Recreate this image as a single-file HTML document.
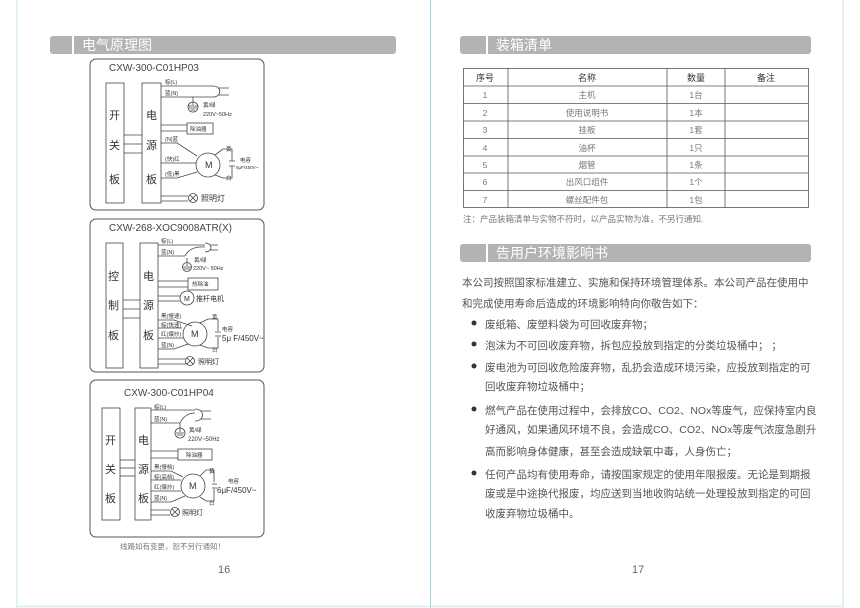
<!DOCTYPE html>
<html><head><meta charset="utf-8"><style>
html,body{margin:0;padding:0;background:#fff}
body{width:860px;height:608px;position:relative;overflow:hidden;font-family:"Liberation Sans","Noto Sans CJK SC",sans-serif}
.p{position:absolute;color:#555;font-size:10.5px;white-space:nowrap}
</style></head><body>
<svg width="860" height="608" style="position:absolute;left:0;top:0" font-family="Liberation Sans, Noto Sans CJK SC, sans-serif">
<line x1="17" y1="0" x2="17" y2="608" stroke="#d6ecef" stroke-width="1.5"/>
<line x1="430.5" y1="0" x2="430.5" y2="608" stroke="#9fd0dc" stroke-width="1"/>
<line x1="843" y1="0" x2="843" y2="608" stroke="#d6ecef" stroke-width="1.5"/>
<line x1="17" y1="606.5" x2="843" y2="606.5" stroke="#d6ecef" stroke-width="1.5"/>
<g fill="#b3b3b3">
<rect x="50" y="36" width="346" height="18" rx="3"/>
<rect x="460" y="36" width="351" height="18" rx="3"/>
<rect x="460" y="244" width="351" height="18" rx="3"/>
</g>
<g stroke="#fff" stroke-width="2">
<line x1="73" y1="36" x2="73" y2="54"/><line x1="487" y1="36" x2="487" y2="54"/><line x1="487" y1="244" x2="487" y2="262"/>
</g>
<g fill="#fff" font-size="14">
<text x="82" y="50">电气原理图</text><text x="496" y="50">装箱清单</text><text x="496" y="258">告用户环境影响书</text>
</g>
<g fill="none" stroke="#555" stroke-width="1">
<rect x="90" y="59" width="174" height="151" rx="6"/>
<rect x="90" y="219" width="174" height="153" rx="6"/>
<rect x="90" y="380" width="174" height="157" rx="6"/>
</g>
<g fill="#444" font-size="10"><text x="109" y="71">CXW-300-C01HP03</text><text x="109" y="231">CXW-268-XOC9008ATR(X)</text><text x="124" y="396">CXW-300-C01HP04</text></g>

<g stroke="#444" stroke-width="0.8" fill="none">
<rect x="106" y="83" width="18" height="120"/><rect x="142" y="83" width="19" height="120"/>
<line x1="124" y1="135" x2="142" y2="135"/><line x1="124" y1="144" x2="142" y2="144"/><line x1="124" y1="153" x2="142" y2="153"/>
<line x1="161" y1="86" x2="213" y2="86"/><line x1="161" y1="97" x2="213" y2="97"/>
<path d="M213 86 C222 86 222 97 213 97 M219 88 h10 M219 95 h10"/>
<path d="M193 97 v8 M188 106 h10 M189 108 h8 M191 110 h4"/><circle cx="193" cy="107" r="5"/>
<line x1="161" y1="125" x2="187" y2="125"/><line x1="161" y1="131" x2="187" y2="131"/><rect x="187" y="123" width="26" height="11"/>
<circle cx="208" cy="165" r="12"/>
<path d="M161 143 h16 l20 13 M161 163 h35 M161 178 h16 l20 -6"/>
<path d="M215 155 l8 -6 h9 v12 M215 175 l8 3 h9 v-12 M229 161 h6 M229 166 h6"/>
<line x1="161" y1="196" x2="188" y2="196"/><line x1="161" y1="201" x2="188" y2="201"/>
<circle cx="193" cy="198" r="4.5"/><path d="M190 195 l6 6 M196 195 l-6 6"/>
<rect x="106" y="243" width="17" height="125"/><rect x="140" y="243" width="18" height="125"/>
<line x1="123" y1="300" x2="140" y2="300"/><line x1="123" y1="309" x2="140" y2="309"/><line x1="123" y1="318" x2="140" y2="318"/>
<line x1="158" y1="245" x2="205" y2="245"/><line x1="158" y1="256" x2="185" y2="256"/><path d="M185 256 q5 -10 20 -9"/>
<path d="M205 243 C213 243 213 252 205 252 M210 245 h8 M210 250 h8"/>
<circle cx="187" cy="267" r="4.5"/><path d="M187 258 v8 M183 267 h8 M184 269 h6"/>
<line x1="158" y1="281" x2="188" y2="281"/><line x1="158" y1="287" x2="188" y2="287"/><rect x="188" y="278" width="30" height="12"/>
<line x1="158" y1="296" x2="180" y2="296"/><line x1="158" y1="301" x2="180" y2="301"/><circle cx="187" cy="298" r="7"/>
<circle cx="195" cy="334" r="12"/>
<path d="M158 320 h16 l18 6 M158 328 h24 M158 338 h25 M158 349 h16 l14 -5"/>
<path d="M200 323 l8 -4 h10 v12 M200 345 l8 3 h10 v-11 M215 332 h6 M215 336 h6"/>
<line x1="158" y1="359" x2="186" y2="359"/><line x1="158" y1="364" x2="186" y2="364"/>
<circle cx="190" cy="361" r="4.5"/><path d="M187 358 l6 6 M193 358 l-6 6"/>
<rect x="102" y="408" width="18" height="112"/><rect x="135" y="408" width="16" height="112"/>
<line x1="120" y1="460" x2="135" y2="460"/><line x1="120" y1="468" x2="135" y2="468"/><line x1="120" y1="476" x2="135" y2="476"/>
<line x1="151" y1="410" x2="195" y2="410"/><line x1="151" y1="423" x2="180" y2="423"/><path d="M180 423 q5 -10 15 -10"/>
<path d="M195 409 C205 409 205 421 195 421 M201 411 h10 M201 419 h10"/>
<circle cx="180" cy="433" r="5"/><path d="M180 423 v9 M176 433 h8 M177 435 h6"/>
<line x1="151" y1="451" x2="178" y2="451"/><line x1="151" y1="458" x2="178" y2="458"/><rect x="178" y="449" width="34" height="11"/>
<circle cx="193" cy="486" r="12"/>
<path d="M151 471 h20 l12 6 M151 480 h30 M151 491 h30 M151 502 h20 l14 -6"/>
<path d="M200 476 l6 -6 h8 v12 M200 497 l6 4 h8 v-12 M212 484 h5 M212 488 h5"/>
<line x1="151" y1="510" x2="170" y2="510"/><line x1="151" y1="515" x2="170" y2="515"/>
<circle cx="175" cy="512" r="4.5"/><path d="M172 509 l6 6 M178 509 l-6 6"/>
</g>
<g fill="#333" font-size="11">
<text x="109" y="119">开</text><text x="109" y="149">关</text><text x="109" y="183">板</text>
<text x="146" y="119">电</text><text x="146" y="149">源</text><text x="146" y="183">板</text>
<text x="108" y="280">控</text><text x="108" y="309">制</text><text x="108" y="339">板</text>
<text x="143" y="280">电</text><text x="143" y="309">源</text><text x="143" y="339">板</text>
<text x="105" y="444">开</text><text x="105" y="473">关</text><text x="105" y="502">板</text>
<text x="138" y="444">电</text><text x="138" y="473">源</text><text x="138" y="502">板</text>
</g>
<g fill="#333" font-size="5.5">
<text x="165" y="84">棕(L)</text><text x="165" y="95">蓝(N)</text><text x="203" y="107">黄/绿</text><text x="203" y="116">220V~50Hz</text>
<text x="190" y="131">除油器</text><text x="165" y="141">(N)蓝</text><text x="165" y="161">(快)红</text><text x="165" y="176">(低)黑</text>
<text x="226" y="151">黄</text><text x="226" y="180">白</text><text x="240" y="162">电容</text><text x="236" y="169" font-size="4.5">6μF/450V~</text>
<text x="161" y="243">棕(L)</text><text x="161" y="254">蓝(N)</text><text x="194" y="262">黄/绿</text><text x="193" y="270">220V~ 50Hz</text>
<text x="192" y="286">热除油</text><text x="161" y="318">黑(慢速)</text><text x="161" y="327">棕(快速)</text><text x="161" y="336">红(爆炒)</text><text x="161" y="347">蓝(N)</text>
<text x="212" y="319">黄</text><text x="212" y="352">白</text><text x="222" y="331">电容</text>
<text x="154" y="409">棕(L)</text><text x="154" y="421">蓝(N)</text><text x="189" y="432">黄/绿</text><text x="188" y="441" font-size="6">220V~50Hz</text>
<text x="186" y="457">除油器</text><text x="154" y="469">黑(慢档)</text><text x="154" y="479">棕(高档)</text><text x="154" y="489">红(爆炒)</text><text x="154" y="500">蓝(N)</text>
<text x="209" y="473">黄</text><text x="209" y="505">白</text><text x="228" y="483">电容</text>
</g>
<g fill="#333">
<text x="205" y="168" font-size="9">M</text><text x="201" y="201" font-size="8">照明灯</text>
<text x="184" y="301" font-size="7">M</text><text x="196" y="301" font-size="7">推杆电机</text>
<text x="191" y="337" font-size="9">M</text><text x="222" y="341" font-size="8">5μ F/450V~</text><text x="198" y="364" font-size="7">照明灯</text>
<text x="189" y="489" font-size="9">M</text><text x="217" y="493" font-size="8">6μF/450V~</text><text x="182" y="515" font-size="7">照明灯</text>
</g>
<text x="120" y="549" font-size="7.5" fill="#777">线路如有变更，恕不另行通知！</text>
<text x="218" y="573" font-size="11" fill="#666">16</text><text x="632" y="573" font-size="11" fill="#666">17</text>
<g stroke="#555" stroke-width="0.8" fill="none">
<rect x="463.5" y="68.5" width="345" height="139"/>
<line x1="508" y1="68" x2="508" y2="208"/><line x1="667" y1="68" x2="667" y2="208"/><line x1="725" y1="68" x2="725" y2="208"/>
<line x1="463" y1="86" x2="808" y2="86"/><line x1="463" y1="103.5" x2="808" y2="103.5"/><line x1="463" y1="121" x2="808" y2="121"/><line x1="463" y1="138.5" x2="808" y2="138.5"/><line x1="463" y1="156" x2="808" y2="156"/><line x1="463" y1="173" x2="808" y2="173"/><line x1="463" y1="190.5" x2="808" y2="190.5"/>
</g>
<g font-size="9" text-anchor="middle" fill="#333"><text x="485" y="81">序号</text><text x="587" y="81">名称</text><text x="696" y="81">数量</text><text x="766" y="81">备注</text></g>
<g font-size="8.5" text-anchor="middle" fill="#777">
<text x="485" y="98">1</text><text x="587" y="98">主机</text><text x="696" y="98">1台</text>
<text x="485" y="116">2</text><text x="587" y="116">使用说明书</text><text x="696" y="116">1本</text>
<text x="485" y="133">3</text><text x="587" y="133">挂板</text><text x="696" y="133">1套</text>
<text x="485" y="151">4</text><text x="587" y="151">油杯</text><text x="696" y="151">1只</text>
<text x="485" y="168">5</text><text x="587" y="168">烟管</text><text x="696" y="168">1条</text>
<text x="485" y="185">6</text><text x="587" y="185">出风口组件</text><text x="696" y="185">1个</text>
<text x="485" y="203">7</text><text x="587" y="203">螺丝配件包</text><text x="696" y="203">1包</text>
</g>
<text x="463" y="222" font-size="8.5" fill="#777">注：产品装箱清单与实物不符时，以产品实物为准，不另行通知.</text>
<g fill="#333"><circle cx="474" cy="323" r="2.5"/><circle cx="474" cy="344" r="2.5"/><circle cx="474" cy="366" r="2.5"/><circle cx="474" cy="409" r="2.5"/><circle cx="474" cy="473" r="2.5"/></g>
</svg>
<div class="p" style="left:462px;top:275px">本公司按照国家标准建立、实施和保持环境管理体系。本公司产品在使用中</div>
<div class="p" style="left:462px;top:296px">和完成使用寿命后造成的环境影响特向你敬告如下：</div>
<div class="p" style="left:485px;top:317px">废纸箱、废塑料袋为可回收废弃物；</div>
<div class="p" style="left:485px;top:338px">泡沫为不可回收废弃物，拆包应投放到指定的分类垃圾桶中； ；</div>
<div class="p" style="left:485px;top:360px">废电池为可回收危险废弃物，乱扔会造成环境污染，应投放到指定的可</div>
<div class="p" style="left:485px;top:379px">回收废弃物垃圾桶中；</div>
<div class="p" style="left:485px;top:403px">燃气产品在使用过程中，会排放CO、CO2、NOx等废气，应保持室内良</div>
<div class="p" style="left:485px;top:422px">好通风，如果通风环境不良，会造成CO、CO2、NOx等废气浓度急剧升</div>
<div class="p" style="left:485px;top:444px">高而影响身体健康，甚至会造成缺氧中毒，人身伤亡；</div>
<div class="p" style="left:485px;top:467px">任何产品均有使用寿命，请按国家规定的使用年限报废。无论是到期报</div>
<div class="p" style="left:485px;top:486px">废或是中途换代报废，均应送到当地收购站统一处理投放到指定的可回</div>
<div class="p" style="left:485px;top:506px">收废弃物垃圾桶中。</div>
</body></html>
